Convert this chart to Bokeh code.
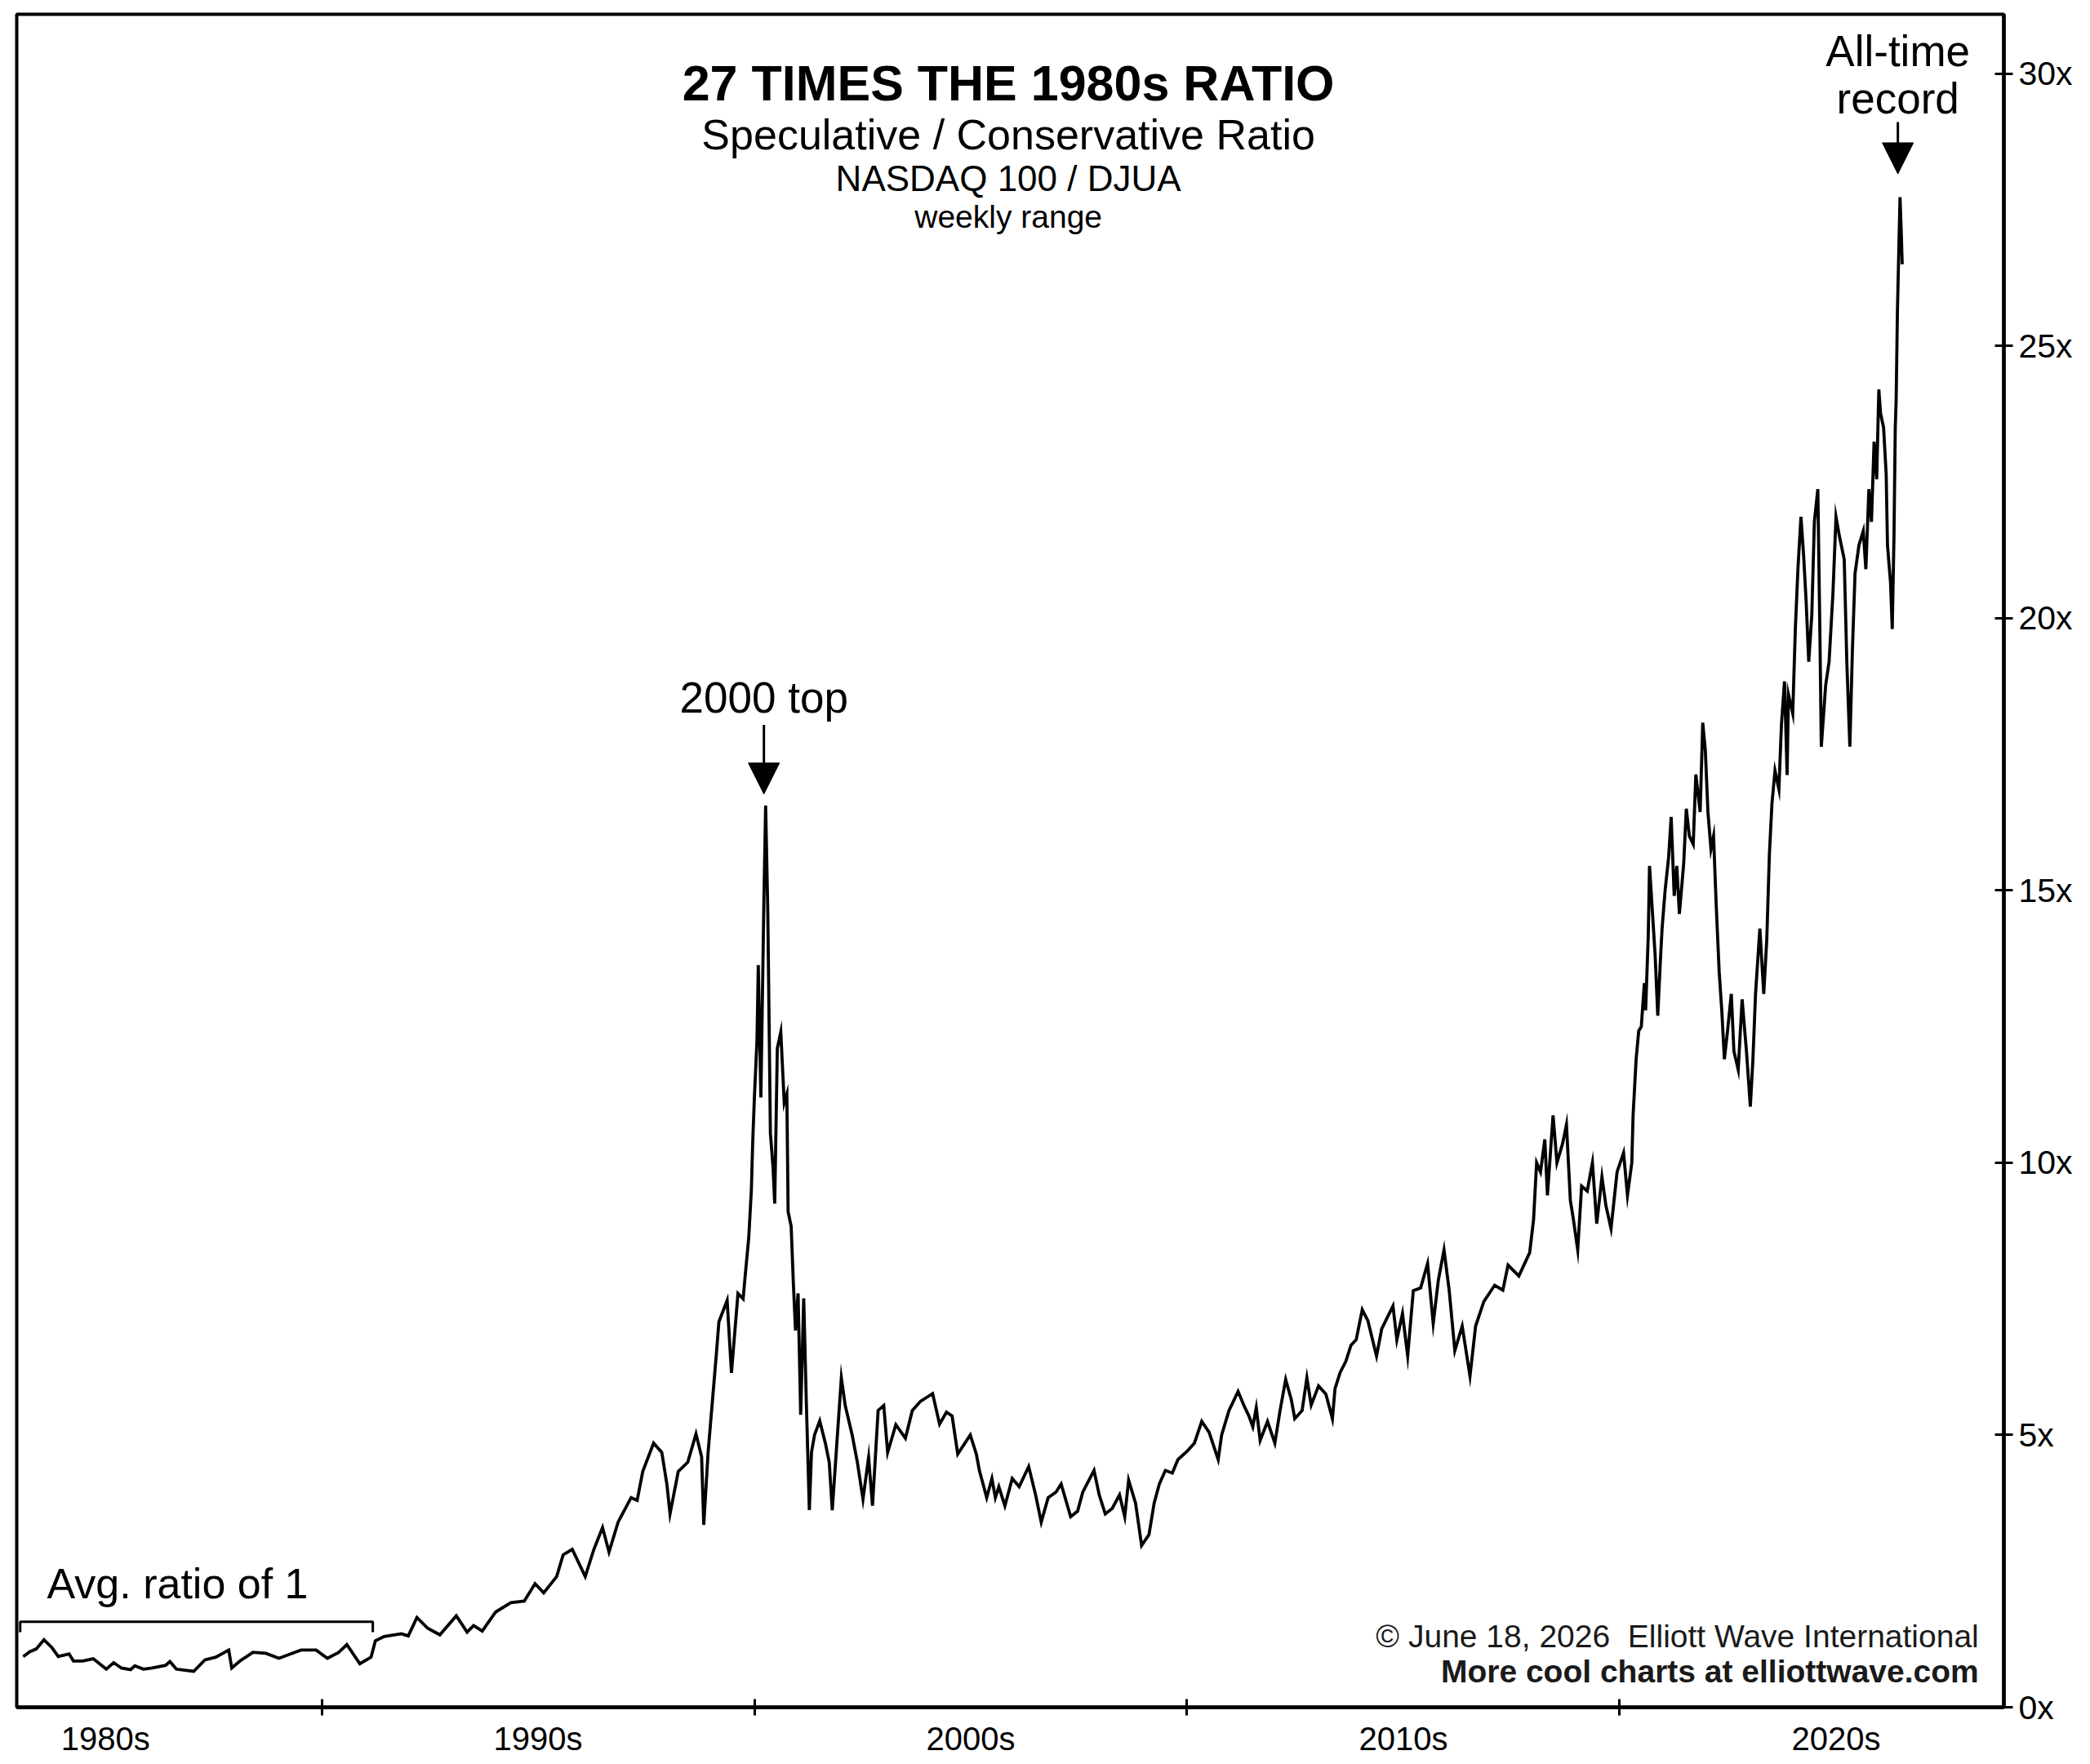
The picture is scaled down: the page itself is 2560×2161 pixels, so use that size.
from bokeh.plotting import figure
from bokeh.models import Range1d, FixedTicker, Arrow, NormalHead
from bokeh.core.properties import value
from bokeh.embed import file_html
from bokeh.resources import INLINE

# ---------------- data ----------------
years = [
    1983.10, 1983.25, 1983.40, 1983.58, 1983.76, 1983.91, 1984.16, 1984.26, 1984.47, 1984.72,
    1985.02, 1985.19, 1985.37, 1985.58, 1985.68, 1985.88, 1986.08, 1986.39, 1986.49, 1986.64,
    1987.04, 1987.30, 1987.55, 1987.85, 1987.92, 1988.11, 1988.41, 1988.71, 1989.01, 1989.25,
    1989.52, 1989.87, 1990.13, 1990.38, 1990.58, 1990.88, 1991.14, 1991.24, 1991.44, 1991.84,
    1992.00, 1992.20, 1992.45, 1992.73, 1993.11, 1993.36, 1993.51, 1993.71, 1994.02, 1994.37,
    1994.68, 1994.93, 1995.13, 1995.43, 1995.58, 1995.79, 1996.09, 1996.29, 1996.49, 1996.64,
    1996.85, 1997.15, 1997.29, 1997.42, 1997.67, 1997.86, 1997.98, 1998.05, 1998.24, 1998.46,
    1998.65, 1998.78, 1998.83, 1998.93, 1999.12, 1999.18, 1999.37, 1999.47, 1999.62, 1999.74,
    1999.78, 1999.87, 1999.93, 1999.96, 2000.00, 2000.06, 2000.09, 2000.15, 2000.22, 2000.26,
    2000.31, 2000.37, 2000.43, 2000.47, 2000.53, 2000.61, 2000.69, 2000.75, 2000.78, 2000.85,
    2000.90, 2000.95, 2001.01, 2001.07, 2001.14, 2001.20, 2001.27, 2001.32, 2001.39, 2001.51,
    2001.64, 2001.73, 2001.80, 2001.95, 2002.01, 2002.10, 2002.26, 2002.38, 2002.51, 2002.64,
    2002.73, 2002.86, 2002.99, 2003.08, 2003.27, 2003.49, 2003.65, 2003.84, 2004.12, 2004.28,
    2004.44, 2004.57, 2004.70, 2004.99, 2005.13, 2005.20, 2005.37, 2005.49, 2005.57, 2005.65,
    2005.79, 2005.96, 2006.12, 2006.34, 2006.50, 2006.63, 2006.79, 2006.97, 2007.09, 2007.31,
    2007.47, 2007.59, 2007.85, 2007.97, 2008.11, 2008.27, 2008.44, 2008.56, 2008.65, 2008.81,
    2008.95, 2009.12, 2009.24, 2009.36, 2009.50, 2009.66, 2009.79, 2010.00, 2010.17, 2010.34,
    2010.51, 2010.72, 2010.80, 2010.97, 2011.18, 2011.31, 2011.43, 2011.52, 2011.60, 2011.69,
    2011.86, 2012.03, 2012.15, 2012.28, 2012.41, 2012.49, 2012.66, 2012.77, 2012.87, 2013.04,
    2013.21, 2013.36, 2013.42, 2013.54, 2013.67, 2013.79, 2013.91, 2014.05, 2014.18, 2014.38,
    2014.50, 2014.76, 2014.85, 2014.98, 2015.10, 2015.23, 2015.40, 2015.56, 2015.69, 2015.81,
    2015.94, 2016.06, 2016.19, 2016.36, 2016.54, 2016.67, 2016.86, 2017.11, 2017.30, 2017.42,
    2017.67, 2017.92, 2018.01, 2018.08, 2018.17, 2018.27, 2018.33, 2018.46, 2018.55, 2018.68,
    2018.77, 2018.86, 2018.93, 2019.03, 2019.12, 2019.25, 2019.37, 2019.47, 2019.59, 2019.68,
    2019.80, 2019.94, 2020.09, 2020.18, 2020.28, 2020.31, 2020.38, 2020.44, 2020.50, 2020.57,
    2020.60, 2020.66, 2020.69, 2020.82, 2020.88, 2020.94, 2020.98, 2021.05, 2021.13, 2021.19,
    2021.26, 2021.32, 2021.38, 2021.48, 2021.54, 2021.61, 2021.70, 2021.76, 2021.86, 2021.92,
    2021.98, 2022.04, 2022.11, 2022.17, 2022.23, 2022.30, 2022.36, 2022.42, 2022.49, 2022.58,
    2022.64, 2022.74, 2022.83, 2022.93, 2023.02, 2023.08, 2023.14, 2023.24, 2023.33, 2023.40,
    2023.46, 2023.52, 2023.59, 2023.68, 2023.74, 2023.81, 2023.87, 2023.90, 2024.00, 2024.06,
    2024.12, 2024.19, 2024.25, 2024.31, 2024.37, 2024.44, 2024.50, 2024.58, 2024.63, 2024.66,
    2024.76, 2024.84, 2024.93, 2025.00, 2025.08, 2025.19, 2025.25, 2025.32, 2025.38, 2025.44,
    2025.53, 2025.63, 2025.69, 2025.76, 2025.82, 2025.88, 2025.94, 2025.99, 2026.03, 2026.10,
    2026.16, 2026.19, 2026.26, 2026.30, 2026.34, 2026.37, 2026.39, 2026.42, 2026.45, 2026.48,
    2026.51, 2026.53,
]
ratio = [
    0.93, 1.02, 1.07, 1.24, 1.10, 0.93, 0.98, 0.85, 0.85, 0.89,
    0.70, 0.82, 0.72, 0.69, 0.76, 0.70, 0.72, 0.77, 0.84, 0.70,
    0.66, 0.87, 0.92, 1.05, 0.72, 0.85, 1.01, 0.99, 0.90, 0.97,
    1.05, 1.05, 0.90, 1.00, 1.15, 0.80, 0.92, 1.22, 1.30, 1.35,
    1.31, 1.65, 1.45, 1.33, 1.68, 1.38, 1.50, 1.40, 1.75, 1.92,
    1.95, 2.27, 2.10, 2.40, 2.80, 2.90, 2.40, 2.90, 3.30, 2.85,
    3.40, 3.85, 3.80, 4.33, 4.85, 4.68, 4.08, 3.55, 4.33, 4.50,
    5.02, 4.60, 3.35, 4.68, 6.48, 7.08, 7.47, 6.14, 7.60, 7.50,
    7.86, 8.63, 9.50, 10.35, 11.20, 12.25, 13.63, 11.20, 14.84, 16.56,
    14.60, 10.54, 9.93, 9.25, 12.10, 12.40, 11.10, 11.26, 9.10, 8.83,
    7.80, 6.92, 7.60, 5.37, 7.51, 5.62, 3.62, 4.68, 5.00, 5.26,
    4.85, 4.50, 3.62, 5.36, 6.05, 5.54, 5.00, 4.50, 3.82, 4.59,
    3.70, 5.45, 5.54, 4.68, 5.19, 4.94, 5.45, 5.62, 5.76, 5.20,
    5.42, 5.35, 4.65, 5.00, 4.65, 4.35, 3.85, 4.20, 3.85, 4.05,
    3.70, 4.20, 4.05, 4.42, 3.90, 3.40, 3.85, 3.95, 4.10, 3.50,
    3.60, 3.95, 4.35, 3.90, 3.55, 3.65, 3.90, 3.50, 4.17, 3.75,
    2.97, 3.17, 3.75, 4.10, 4.35, 4.30, 4.55, 4.70, 4.85, 5.25,
    5.05, 4.55, 5.00, 5.45, 5.80, 5.55, 5.35, 5.15, 5.50, 4.90,
    5.25, 4.85, 5.45, 6.02, 5.65, 5.30, 5.45, 6.05, 5.55, 5.90,
    5.75, 5.30, 5.85, 6.15, 6.35, 6.65, 6.75, 7.30, 7.10, 6.45,
    6.95, 7.37, 6.75, 7.23, 6.45, 7.65, 7.70, 8.15, 7.05, 7.85,
    8.40, 7.65, 6.55, 7.00, 6.08, 7.00, 7.45, 7.75, 7.66, 8.12,
    7.92, 8.35, 8.96, 10.00, 9.83, 10.43, 9.40, 10.87, 10.00, 10.35,
    10.70, 9.31, 8.96, 8.40, 9.57, 9.48, 10.00, 8.88, 9.74, 9.22,
    8.79, 9.83, 10.18, 9.40, 10.00, 10.87, 11.90, 12.42, 12.50, 13.30,
    12.80, 14.16, 15.45, 13.80, 12.70, 13.70, 14.30, 15.00, 15.60, 16.35,
    14.90, 15.45, 14.57, 15.50, 16.50, 16.00, 15.85, 17.13, 16.44, 18.08,
    17.57, 16.44, 15.76, 16.00, 14.75, 13.50, 12.80, 11.90, 12.40, 13.10,
    12.05, 11.71, 13.00, 12.05, 11.03, 11.90, 13.10, 14.30, 13.10, 14.10,
    15.66, 16.60, 17.20, 16.86, 18.06, 18.84, 17.12, 18.60, 18.25, 19.80,
    20.90, 21.86, 21.17, 20.31, 19.20, 20.05, 21.77, 22.37, 19.60, 17.64,
    18.76, 19.20, 20.47, 21.86, 21.50, 21.08, 19.20, 17.64, 19.44, 20.82,
    21.34, 21.60, 20.90, 22.37, 21.77, 23.24, 22.55, 24.20, 23.76, 23.50,
    22.64, 21.34, 20.66, 19.80, 21.50, 23.50, 24.00, 25.65, 26.70, 27.73,
    27.04, 26.50,
]

label_years = [1985, 1995, 2005, 2015, 2025]
decade_labels = ["1980s", "1990s", "2000s", "2010s", "2020s"]
decade_ticks = [1990, 2000, 2010, 2020]
y_ticks = [0, 5, 10, 15, 20, 25, 30]
y_labels = ["0x", "5x", "10x", "15x", "20x", "25x", "30x"]

title_lines = ["27 TIMES THE 1980s RATIO", "Speculative / Conservative Ratio",
               "NASDAQ 100 / DJUA", "weekly range"]
credit_lines = ["\u00a9 June 18, 2026\u00a0\u00a0Elliott Wave International",
                "More cool charts at elliottwave.com"]

avg_start, avg_end, avg_level, avg_foot = 1983.03, 1991.18, 1.57, 1.38
top2000_year, top2000_text_y, top2000_arrow_from, top2000_arrow_to = 2000.22, 18.55, 18.04, 16.77
record_year, record_arrow_from, record_arrow_to = 2026.43, 29.11, 28.16

FONT = value("Liberation Sans")

# ---------------- figure ----------------
p = figure(width=2560, height=2161,
           x_range=Range1d(1982.95, 2028.88), y_range=Range1d(0, 31.09),
           y_axis_location="right", output_backend="svg", toolbar_location=None,
           min_border_left=20, min_border_top=17, min_border_right=106, min_border_bottom=70)
p.background_fill_color = "white"
p.border_fill_color = "white"
p.xgrid.visible = False
p.ygrid.visible = False
p.outline_line_color = "black"
p.outline_line_width = 4
p.outline_line_alpha = 1.0

xa = p.xaxis[0]
xa.ticker = FixedTicker(ticks=label_years, minor_ticks=decade_ticks)
xa.major_label_overrides = {y: l for y, l in zip(label_years, decade_labels)}
xa.axis_line_width = 4.5
xa.axis_line_color = "black"
xa.major_tick_in = 0
xa.major_tick_out = 0
xa.major_tick_line_color = None
xa.minor_tick_in = 10
xa.minor_tick_out = 10
xa.minor_tick_line_width = 3
xa.minor_tick_line_color = "black"
xa.major_label_standoff = 6
xa.major_label_text_font = "Liberation Sans"
xa.major_label_text_font_size = "40px"
xa.major_label_text_color = "black"

ya = p.yaxis[0]
ya.ticker = FixedTicker(ticks=y_ticks, minor_ticks=[])
ya.major_label_overrides = {t: l for t, l in zip(y_ticks, y_labels)}
ya.axis_line_width = 4.5
ya.axis_line_color = "black"
ya.major_tick_in = 11
ya.major_tick_out = 11
ya.major_tick_line_width = 3
ya.major_tick_line_color = "black"
ya.minor_tick_in = 0
ya.minor_tick_out = 0
ya.major_label_standoff = 7
ya.major_label_text_font = "Liberation Sans"
ya.major_label_text_font_size = "41px"
ya.major_label_text_color = "black"

# ratio series (weekly range path)
p.line(years, ratio, line_color="black", line_width=3.8, line_join="miter")

# 1980s bracket
p.line([avg_start, avg_start, avg_end, avg_end], [avg_foot, avg_level, avg_level, avg_foot],
       line_color="black", line_width=3)
p.text(x=[1983.65], y=[2.27], text=["Avg. ratio of 1"], text_font=FONT,
       text_font_size=value("52px"), text_align="left", text_baseline="middle",
       text_color="black")

# 2000 top
p.text(x=[top2000_year], y=[top2000_text_y], text=["2000 top"], text_font=FONT,
       text_font_size=value("53px"), text_align="center", text_baseline="middle",
       text_color="black")
p.add_layout(Arrow(end=NormalHead(size=38, fill_color="black", line_color="black", line_width=1),
                   x_start=top2000_year, y_start=top2000_arrow_from,
                   x_end=top2000_year, y_end=top2000_arrow_to,
                   line_color="black", line_width=3))

# all-time record
p.text(x=[record_year, record_year], y=[30.42, 29.54], text=["All-time", "record"], text_font=FONT,
       text_font_size=value("53px"), text_align="center", text_baseline="middle",
       text_color="black")
p.add_layout(Arrow(end=NormalHead(size=38, fill_color="black", line_color="black", line_width=1),
                   x_start=record_year, y_start=record_arrow_from,
                   x_end=record_year, y_end=record_arrow_to,
                   line_color="black", line_width=3))

# titles
cx = 2005.87
p.text(x=[cx], y=[29.82], text=[title_lines[0]], text_font=FONT, text_font_style="bold",
       text_font_size=value("61px"), text_align="center", text_baseline="middle",
       text_color="black")
p.text(x=[cx], y=[28.88], text=[title_lines[1]], text_font=FONT,
       text_font_size=value("52px"), text_align="center", text_baseline="middle",
       text_color="black")
p.text(x=[cx], y=[28.07], text=[title_lines[2]], text_font=FONT,
       text_font_size=value("44px"), text_align="center", text_baseline="middle",
       text_color="black")
p.text(x=[cx], y=[27.37], text=[title_lines[3]], text_font=FONT,
       text_font_size=value("39px"), text_align="center", text_baseline="middle",
       text_color="black")

# credits
p.text(x=[2028.30], y=[1.31], text=[credit_lines[0]], text_font=FONT,
       text_font_size=value("39px"), text_align="right", text_baseline="middle",
       text_color="#1a1a1a")
p.text(x=[2028.30], y=[0.66], text=[credit_lines[1]], text_font=FONT, text_font_style="bold",
       text_font_size=value("39px"), text_align="right", text_baseline="middle",
       text_color="#1a1a1a")

open("out.html", "w").write(file_html(p, INLINE))
